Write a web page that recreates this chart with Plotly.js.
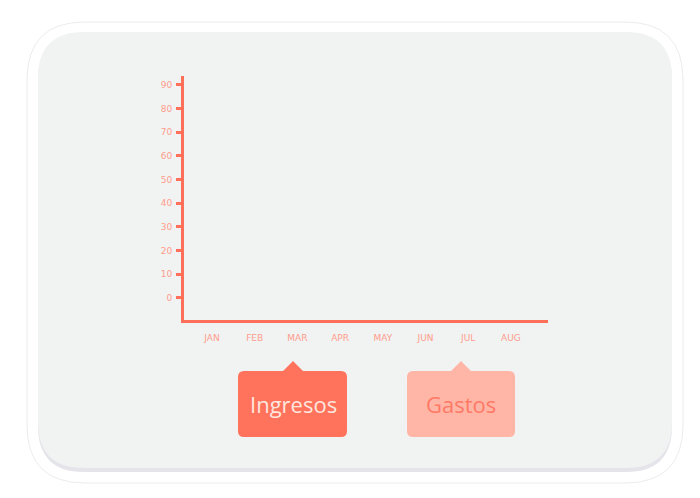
<!DOCTYPE html>
<html><head><meta charset="utf-8">
<script src="https://cdn.plot.ly/plotly-3.0.1.min.js"></script>
<style>html,body{margin:0;padding:0;background:#fff;}#chart{width:700px;height:498px;}</style>
</head><body><div id="chart"></div>
<script>
const months = ["JAN","FEB","MAR","APR","MAY","JUN","JUL","AUG"];
const yTicks = [0,10,20,30,40,50,60,70,80,90];
const ingresos = [null,null,null,null,null,null,null,null];
const gastos = [null,null,null,null,null,null,null,null];
const legendNames = ["Ingresos","Gastos"];

// plot area in pixels
const L = 184, R = 548, T = 76, B = 320;
const W = 700, H = 498;

function toLocal(px, py){ return [px - L, B - py]; }
function rr(x0,y0,x1,y1,r){
  const p = (x,y)=>{const q=toLocal(x,y);return q[0].toFixed(1)+','+q[1].toFixed(1);};
  return 'M'+p(x0+r,y0)+' L'+p(x1-r,y0)+' Q'+p(x1,y0)+' '+p(x1,y0+r)+
    ' L'+p(x1,y1-r)+' Q'+p(x1,y1)+' '+p(x1-r,y1)+' L'+p(x0+r,y1)+
    ' Q'+p(x0,y1)+' '+p(x0,y1-r)+' L'+p(x0,y0+r)+' Q'+p(x0,y0)+' '+p(x0+r,y0)+' Z';
}
function tag(x0,y0,x1,y1,r,ax,ay,hw){
  const p = (x,y)=>{const q=toLocal(x,y);return q[0].toFixed(1)+','+q[1].toFixed(1);};
  return 'M'+p(x0+r,y0)+' L'+p(ax-hw,y0)+' L'+p(ax,ay)+' L'+p(ax+hw,y0)+' L'+p(x1-r,y0)+' Q'+p(x1,y0)+' '+p(x1,y0+r)+
    ' L'+p(x1,y1-r)+' Q'+p(x1,y1)+' '+p(x1-r,y1)+' L'+p(x0+r,y1)+
    ' Q'+p(x0,y1)+' '+p(x0,y1-r)+' L'+p(x0,y0+r)+' Q'+p(x0,y0)+' '+p(x0+r,y0)+' Z';
}
function pshape(path, fill, line, lw, layer){
  return {type:'path', xref:'paper', yref:'paper', xsizemode:'pixel', ysizemode:'pixel',
    xanchor:0, yanchor:0, path:path, fillcolor:fill, line:{color:line||'rgba(0,0,0,0)', width:lw||0}, layer:layer||'below'};
}
const shapes = [
  pshape(rr(27,22,683,483,58), '#ffffff', '#ececee', 1),
  pshape(rr(38,34,672,472,46), '#e4e4ea'),
  pshape(rr(38,32,672,468,46), '#f1f2f2'),
  pshape(tag(238,371,347,437,6,293,361,10), '#ff725c', null, 0, 'above'),
  pshape(tag(407,371,515,437,6,461,361,10), '#ffb6a7', null, 0, 'above')
];
const px2x = x => (x - L)/(R - L);
const py2y = y => (B - y)/(B - T);
const annotations = [
  {text:legendNames[0], xref:'paper', yref:'paper', x:px2x(293), y:py2y(404), showarrow:false,
   xanchor:'center', yanchor:'middle', font:{family:'Open Sans, sans-serif', size:22, color:'#ffe6df'}},
  {text:legendNames[1], xref:'paper', yref:'paper', x:px2x(461), y:py2y(404), showarrow:false,
   xanchor:'center', yanchor:'middle', font:{family:'Open Sans, sans-serif', size:22, color:'#ff7a66'}}
];
const data = [
  {type:'scatter', mode:'lines', x:months, y:ingresos, name:legendNames[0], line:{color:'#ff725c'}, showlegend:false},
  {type:'scatter', mode:'lines', x:months, y:gastos, name:legendNames[1], line:{color:'#ffb6a7'}, showlegend:false}
];
const tf = {family:'DejaVu Sans, sans-serif', size:9, color:'#ff9d8c'};
const layout = {
  width:W, height:H,
  margin:{l:L, r:W-R, t:T, b:H-B},
  paper_bgcolor:'#ffffff', plot_bgcolor:'rgba(0,0,0,0)',
  showlegend:false,
  font:{family:'Open Sans, sans-serif'},
  xaxis:{type:'category', categoryorder:'array', categoryarray:months, range:[-0.656,7.87],
    showgrid:false, zeroline:false, showline:true, linecolor:'#ff6f5a', linewidth:3,
    ticks:'', ticklabelstandoff:7, tickfont:tf, fixedrange:true},
  yaxis:{range:[-9.3,93.8], tickvals:yTicks, showgrid:false, zeroline:false, showline:true,
    linecolor:'#ff6f5a', linewidth:3, ticks:'outside', ticklen:5, tickwidth:3, tickcolor:'#ff6f5a',
    ticklabelstandoff:2, tickfont:tf, fixedrange:true},
  shapes:shapes, annotations:annotations
};
Plotly.newPlot('chart', data, layout, {displayModeBar:false, staticPlot:true});
</script></body></html>
